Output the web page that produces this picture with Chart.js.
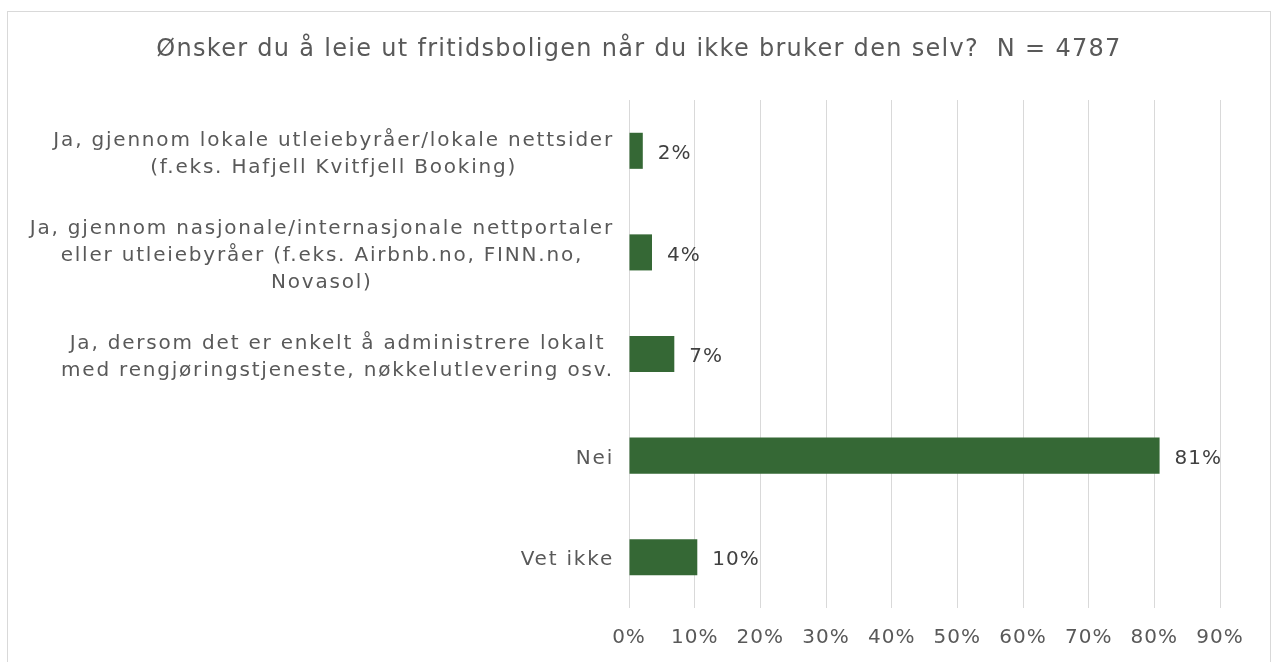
<!DOCTYPE html>
<html>
<head>
<meta charset="utf-8">
<script src="https://cdn.jsdelivr.net/npm/chart.js@4"></script>
<style>
  html, body { margin: 0; padding: 0; background: #fff; overflow: hidden; }
  #box {
    position: absolute; left: 7px; top: 11px;
    width: 1262px; height: 660px;
    border: 1px solid #d9d9d9;
  }
</style>
</head>
<body>
<div id="box"><canvas id="chart"></canvas></div>
<script>
const titleText = 'Ønsker du å leie ut fritidsboligen når du ikke bruker den selv?  N = 4787';

// category labels, one array of lines per bar
const categories = [
  ['Ja, gjennom lokale utleiebyråer/lokale nettsider', '(f.eks. Hafjell Kvitfjell Booking)'],
  ['Ja, gjennom nasjonale/internasjonale nettportaler', 'eller utleiebyråer (f.eks. Airbnb.no, FINN.no,', 'Novasol)'],
  ['Ja, dersom det er enkelt å administrere lokalt', 'med rengjøringstjeneste, nøkkelutlevering osv.'],
  ['Nei'],
  ['Vet ikke']
];
const shares = [2.1, 3.5, 6.9, 80.8, 10.4];
const xTicks = [0, 10, 20, 30, 40, 50, 60, 70, 80, 90];

const FONT = '"DejaVu Sans", sans-serif';
const textGrey = '#595959';

// wider tracking, closer to the original's Century Gothic
const spacing = {
  id: 'spacing',
  beforeDraw(chart) { chart.ctx.letterSpacing = '1px'; }
};

// title, drawn by hand so the tracking stays centred
const titleDraw = {
  id: 'titleDraw',
  afterDraw(chart) {
    const ctx = chart.ctx;
    ctx.save();
    ctx.font = '24px ' + FONT;
    ctx.letterSpacing = '0px';
    const track = 1.3;
    const w = ctx.measureText(titleText).width + track * titleText.length;
    ctx.letterSpacing = track + 'px';
    ctx.fillStyle = textGrey;
    ctx.textAlign = 'left';
    ctx.textBaseline = 'middle';
    ctx.fillText(titleText, chart.width / 2 - w / 2, 38);
    ctx.restore();
  }
};

// draws the category labels: block right-aligned, lines centred inside
const categoryLabels = {
  id: 'categoryLabels',
  afterDraw(chart) {
    const ctx = chart.ctx;
    const y = chart.scales.y;
    const right = chart.chartArea.left - 15;
    const lineH = 27;
    ctx.save();
    ctx.letterSpacing = '1.8px';
    ctx.font = '20px ' + FONT;
    ctx.fillStyle = textGrey;
    ctx.textBaseline = 'middle';
    ctx.textAlign = 'center';
    categories.forEach((lines, i) => {
      const w = Math.max(...lines.map(l => ctx.measureText(l).width));
      const cx = right - w / 2;
      const cy = y.getPixelForTick(i) + 3;
      const top = cy - (lines.length - 1) * lineH / 2;
      lines.forEach((l, j) => ctx.fillText(l, cx, top + j * lineH));
    });
    ctx.restore();
  }
};

// percent labels at the end of each bar
const valueLabels = {
  id: 'valueLabels',
  afterDatasetsDraw(chart) {
    const ctx = chart.ctx;
    const meta = chart.getDatasetMeta(0);
    ctx.save();
    ctx.font = '20px ' + FONT;
    ctx.fillStyle = '#404040';
    ctx.textBaseline = 'middle';
    ctx.textAlign = 'left';
    meta.data.forEach((bar, i) => {
      ctx.fillText(Math.round(shares[i]) + '%', bar.x + 15, bar.y + 3);
    });
    ctx.restore();
  }
};

new Chart(document.getElementById('chart'), {
  type: 'bar',
  data: {
    labels: categories.map(c => c.join(' ')),
    datasets: [{
      data: shares,
      backgroundColor: '#356835',
      borderWidth: 0,
      categoryPercentage: 1,
      barPercentage: 0.355
    }]
  },
  options: {
    indexAxis: 'y',
    responsive: true,
    maintainAspectRatio: false,
    animation: false,
    layout: { padding: { left: 0, right: 50, top: 88, bottom: 0 } },
    plugins: {
      legend: { display: false },
      tooltip: { enabled: false },
      title: { display: false }
    },
    scales: {
      x: {
        min: 0,
        max: 90,
        afterBuildTicks: s => { s.ticks = xTicks.map(v => ({ value: v })); },
        afterFit: s => { s.height = 64; },
        grid: { color: '#d9d9d9', drawTicks: false },
        border: { display: false },
        ticks: {
          padding: 18,
          color: textGrey,
          font: { family: FONT, size: 20 },
          callback: v => v + '%'
        }
      },
      y: {
        afterFit: s => { s.width = 621; },
        grid: { display: false },
        border: { display: false },
        ticks: { display: false }
      }
    }
  },
  plugins: [spacing, titleDraw, categoryLabels, valueLabels]
});
</script>
</body>
</html>
